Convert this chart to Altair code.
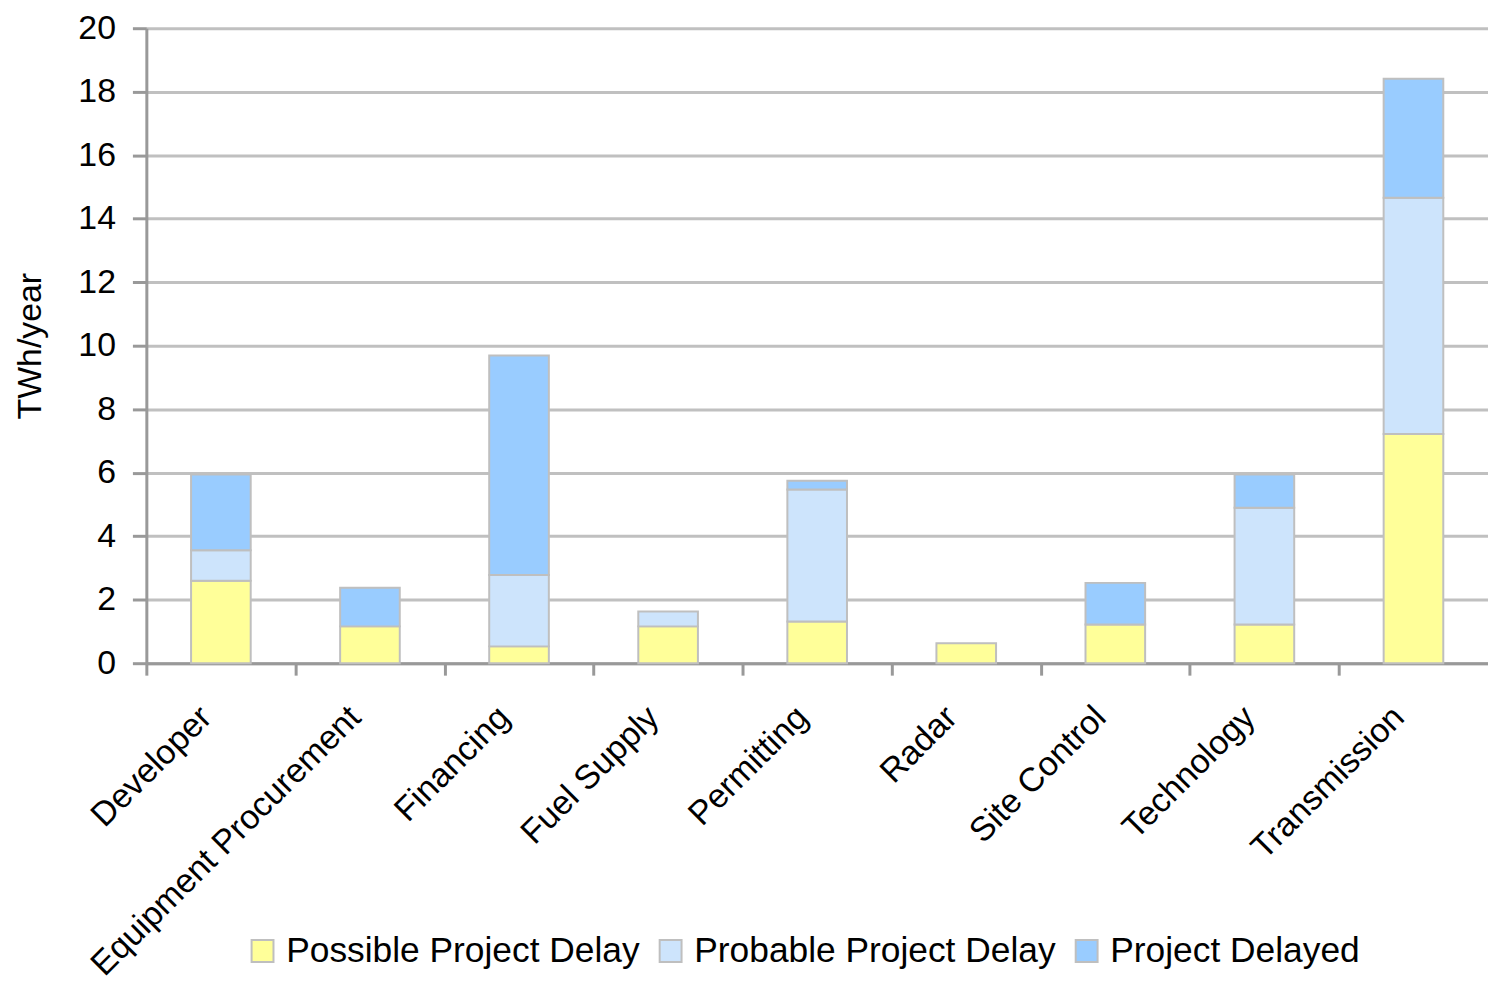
import altair as alt
import pandas as pd

categories = ["Developer", "Equipment Procurement", "Financing", "Fuel Supply",
              "Permitting", "Radar", "Site Control", "Technology", "Transmission"]
possible = [2.60, 1.16, 0.53, 1.16, 1.31, 0.63, 1.22, 1.22, 7.22]
probable = [0.96, 0.00, 2.25, 0.47, 4.16, 0.00, 0.00, 3.68, 7.44]
delayed = [2.38, 1.22, 6.91, 0.00, 0.28, 0.00, 1.31, 1.04, 3.75]
series = ["Possible Project Delay", "Probable Project Delay", "Project Delayed"]
colors = ["#ffff99", "#cde4fc", "#99ccff"]
y_ticks = [0, 2, 4, 6, 8, 10, 12, 14, 16, 18, 20]

rows = []
for i, c in enumerate(categories):
    for k, (s, vals) in enumerate(zip(series, [possible, probable, delayed])):
        if vals[i] > 0:
            rows.append({"category": c, "series": s, "value": vals[i], "order": k})
df = pd.DataFrame(rows)

FONT = "Liberation Sans"
W = 1348
HALF = W / 9 / 2

chart = alt.Chart(df).mark_bar(stroke="#bfbfbf", strokeWidth=2).encode(
    x=alt.X("category:N", sort=categories, title=None,
            scale=alt.Scale(paddingInner=0.6, paddingOuter=0.3),
            axis=alt.Axis(labelAngle=-45, labelAlign="right", labelBaseline="middle",
                          labelFontSize=34, labelFont=FONT, labelColor="#000",
                          labelPadding=37, tickOffset=-HALF, labelOffset=HALF - 15,
                          tickSize=12, tickColor="#999999", tickWidth=3,
                          domainColor="#999999", domainWidth=3, grid=False,
                          labelLimit=1000)),
    y=alt.Y("value:Q", stack="zero", title="TWh/year",
            scale=alt.Scale(domain=[0, 20], nice=False),
            axis=alt.Axis(values=y_ticks, labelFontSize=34, labelFont=FONT,
                          labelColor="#000", titleFontSize=34, titleFont=FONT,
                          titleFontWeight="normal", titleColor="#000", titlePadding=31,
                          tickSize=14, tickColor="#999999", tickWidth=3,
                          domainColor="#999999", domainWidth=3, labelPadding=17,
                          gridColor="#c0c0c0", gridWidth=3)),
    color=alt.Color("series:N", sort=series,
                    scale=alt.Scale(domain=series, range=colors),
                    legend=alt.Legend(title=None, orient="none", direction="horizontal",
                                      columns=3, legendX=99, legendY=909,
                                      symbolType="square", symbolSize=484,
                                      symbolStrokeColor="#bfbfbf", symbolStrokeWidth=2,
                                      symbolOpacity=1, labelFontSize=35.5, labelFont=FONT,
                                      labelColor="#000", labelOffset=6,
                                      columnPadding=13, labelLimit=1000)),
    order=alt.Order("order:Q"),
).properties(
    width=W, height=638,
    padding={"left": 139, "top": 18, "right": 0, "bottom": 318},
    autosize="none",
).configure_view(stroke=None)

chart.save("out.html", embed_options={"renderer": "svg", "actions": False})
